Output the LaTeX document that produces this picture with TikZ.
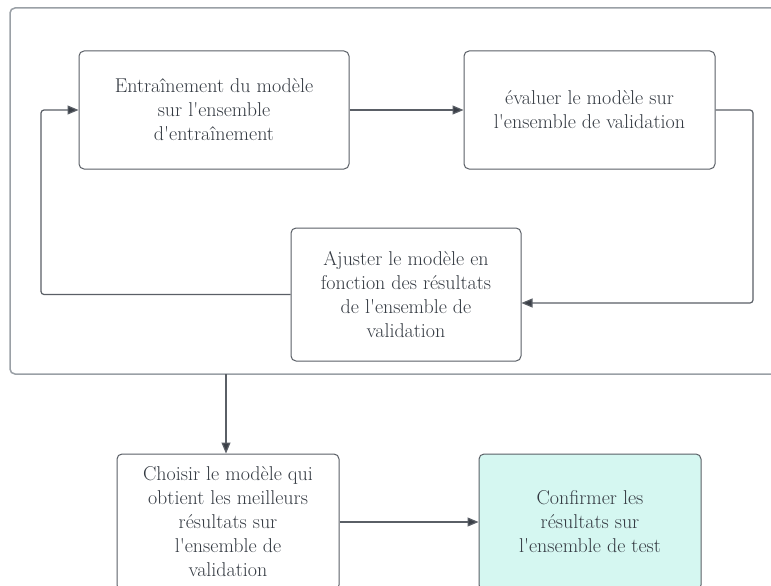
\documentclass[tikz,border=0pt]{standalone}
\usepackage{tikz}
\usetikzlibrary{arrows.meta,positioning}
\definecolor{txtgray}{HTML}{343A42}
\definecolor{boxgray}{HTML}{5A5F66}
\definecolor{framegray}{HTML}{9AA0A6}
\definecolor{tipgray}{HTML}{3A3F47}
\definecolor{testcyan}{HTML}{D5F7F1}
\newcommand{\ap}{\textquotesingle}

\begin{document}
\begin{tikzpicture}[x=1pt,y=-1pt,
  stepbox/.style={draw=boxgray,line width=1pt,rounded corners=5pt,text=txtgray,align=center,font=\fontsize{20}{24}\selectfont,inner sep=0pt},
  link/.style={draw=boxgray,line width=1.2pt,rounded corners=3pt,-{Triangle[length=11pt,width=9pt,fill=tipgray]}}]
\useasboundingbox (0,0) rectangle (771,586);
\clip (0,0) rectangle (771,586);
\fill[white] (0,0) rectangle (771,586);
% outer loop frame, runs off the right edge
\draw[framegray,line width=1.5pt,rounded corners=5pt] (10,8) rectangle (800,374);
\node[stepbox,minimum width=270pt,minimum height=118pt] (train) at (214,110) {Entraînement du modèle\\sur l\ap ensemble\\d\ap entraînement};
\node[stepbox,minimum width=251pt,minimum height=118pt] (eval) at (589.5,110) {évaluer le modèle sur\\l\ap ensemble de validation};
\node[stepbox,minimum width=230pt,minimum height=133pt] (tune) at (406,294.5) {Ajuster le modèle en\\fonction des résultats\\de l\ap ensemble de\\validation};
\node[stepbox,minimum width=222pt,minimum height=136pt] (pick) at (228,522) {Choisir le modèle qui\\obtient les meilleurs\\résultats sur\\l\ap ensemble de\\validation};
\node[stepbox,fill=testcyan,minimum width=222pt,minimum height=136pt] (test) at (590,522) {Confirmer les\\résultats sur\\l\ap ensemble de test};
\coordinate (rgt) at (753,303);
\coordinate (lft) at (41,110);
\coordinate (out) at (226,374);
\draw[link] (train) -- (eval);
\draw[link] (eval.east) -| (rgt) -- (rgt -| tune.east);
\draw[link] (tune.west) -| (lft) -- (train.west);
\draw[link] (out) -- (out |- pick.north);
\draw[link] (pick) -- (test);
\end{tikzpicture}
\end{document}
